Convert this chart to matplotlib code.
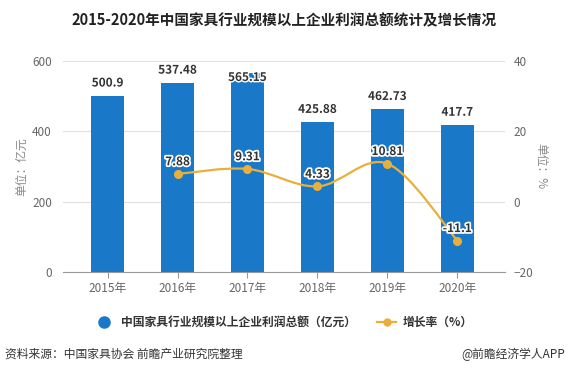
import matplotlib
matplotlib.use("Agg")
import matplotlib.pyplot as plt
from matplotlib.path import Path
from matplotlib.patches import PathPatch
from matplotlib.lines import Line2D
import matplotlib.patheffects as pe
import numpy as np

plt.rcParams['font.family'] = ['Noto Sans CJK SC', 'DejaVu Sans']

years = ['2015年', '2016年', '2017年', '2018年', '2019年', '2020年']
profit = [500.9, 537.48, 565.15, 425.88, 462.73, 417.7]
growth_years = [1, 2, 3, 4, 5]
growth = [7.88, 9.31, 4.33, 10.81, -11.1]

BAR = '#1a78c8'
LINE = '#e8b03a'
GREY = '#666666'

fig = plt.figure(figsize=(5.68, 3.76), dpi=100)
ax = fig.add_axes([0.111, 0.2766, 0.778, 0.5612])
ax2 = ax.twinx()

x = np.arange(len(years))
ax.bar(x, profit, width=0.47, color=BAR, zorder=2)
ax.set_xlim(-0.636, 5.68)
ax.set_ylim(0, 600)
ax.set_yticks([0, 200, 400, 600])
ax.grid(axis='y', color='#e0e0e0', lw=0.8, zorder=0)
ax.set_axisbelow(True)
for s in ['top', 'right', 'left']:
    ax.spines[s].set_visible(False)
ax.spines['bottom'].set_color('#999999')
ax.set_xticks(x)
ax.set_xticklabels(years)
ax.tick_params(axis='x', colors='#999999', length=4, labelcolor=GREY, labelsize=8.5, pad=3)
ax.tick_params(axis='y', length=0, labelcolor=GREY, labelsize=8.5, pad=8)
ax.set_ylabel('单位：亿元', color='#888888', fontsize=8.5, labelpad=3)

for xi, v in zip(x, profit):
    # labels that would run past the top of the plot go just inside the bar
    if v + 45 > 600:
        ax.text(xi, v - 12, f'{v:g}', ha='center', va='center', fontsize=8.5,
                fontweight='bold', color='#333333', zorder=5,
                path_effects=[pe.withStroke(linewidth=2, foreground='white')])
    else:
        ax.text(xi, v + 18, f'{v:g}', ha='center', va='bottom', fontsize=8.5,
                fontweight='bold', color='#333333', zorder=5,
                path_effects=[pe.withStroke(linewidth=2, foreground='white')])

# growth line, smoothed with Bezier segments between the data points
ax2.set_ylim(-20, 40)
ax2.set_yticks([-20, 0, 20, 40])
for s in ['top', 'right', 'left', 'bottom']:
    ax2.spines[s].set_visible(False)
ax2.tick_params(axis='y', length=0, labelcolor=GREY, labelsize=8.5, pad=6)
ax2.set_ylabel('单位：%', color='#888888', fontsize=8.5, rotation=-90, labelpad=10)

pts = np.column_stack([growth_years, growth]).astype(float)
verts = [pts[0]]
codes = [Path.MOVETO]
n = len(pts)
for i in range(n - 1):
    p0 = pts[max(i - 1, 0)]
    p1 = pts[i]
    p2 = pts[i + 1]
    p3 = pts[min(i + 2, n - 1)]
    c1 = p1 + (p2 - p0) / 6
    c2 = p2 - (p3 - p1) / 6
    verts += [c1, c2, p2]
    codes += [Path.CURVE4] * 3
ax2.add_patch(PathPatch(Path(verts, codes), fill=False, edgecolor=LINE, lw=1.6, zorder=3))
ax2.plot(growth_years, growth, 'o', color=LINE, ms=5.5, zorder=4)
for xi, v in zip(growth_years, growth):
    ax2.text(xi, v + 1.6, f'{v:g}', ha='center', va='bottom', fontsize=8.5,
             fontweight='bold', color='#333333', zorder=5,
             path_effects=[pe.withStroke(linewidth=2.5, foreground='white')])

fig.text(0.5, 0.947, '2015-2020年中国家具行业规模以上企业利润总额统计及增长情况',
         ha='center', va='center', fontsize=10.5, fontweight='bold', color='#222222')

handles = [
    Line2D([], [], marker='o', ls='none', color=BAR, ms=8),
    Line2D([], [], marker='o', color=LINE, lw=1.6, ms=5),
]
fig.legend(handles, ['中国家具行业规模以上企业利润总额（亿元）', '增长率（%）'],
           loc='center', bbox_to_anchor=(0.5, 0.143), ncol=2, frameon=False,
           prop={'size': 8.5, 'weight': 'bold'}, handlelength=1.6,
           columnspacing=1.8, handletextpad=0.6, labelcolor='#333333')

fig.text(0.009, 0.058, '资料来源：中国家具协会 前瞻产业研究院整理', ha='left', va='center',
         fontsize=8.5, color='#333333')
fig.text(0.995, 0.058, '@前瞻经济学人APP', ha='right', va='center',
         fontsize=8.5, color='#333333')

fig.savefig('out.png', dpi=100)
